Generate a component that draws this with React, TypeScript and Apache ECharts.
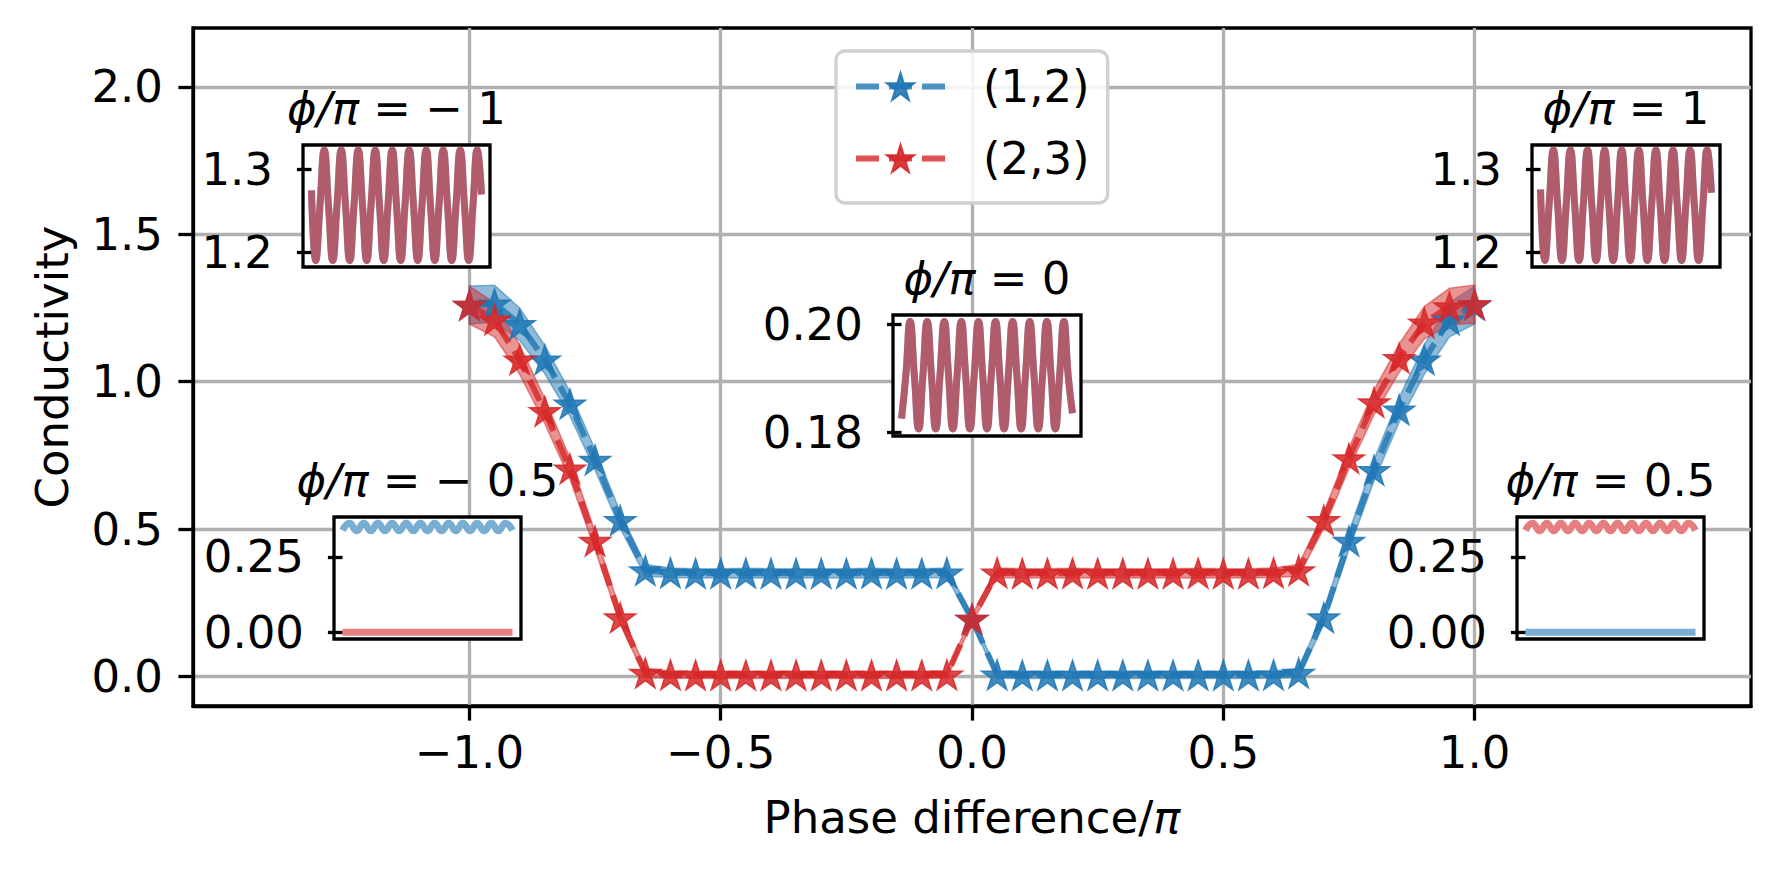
import React, { useEffect, useRef } from "react";
import * as echarts from "echarts";

// ---------- data ----------
const phase = [
  -1.0, -0.95, -0.9, -0.85, -0.8, -0.75, -0.7, -0.65, -0.6, -0.55, -0.5, -0.45, -0.4, -0.35,
  -0.3, -0.25, -0.2, -0.15, -0.1, -0.05, 0.0, 0.05, 0.1, 0.15, 0.2, 0.25, 0.3, 0.35, 0.4, 0.45,
  0.5, 0.55, 0.6, 0.65, 0.7, 0.75, 0.8, 0.85, 0.9, 0.95, 1.0,
];
const cond12 = [
  1.26, 1.265, 1.195, 1.075, 0.925, 0.735, 0.53, 0.36, 0.352, 0.35, 0.35, 0.351, 0.35, 0.35,
  0.35, 0.35, 0.351, 0.35, 0.35, 0.352, 0.195, 0.006, 0.005, 0.005, 0.005, 0.005, 0.005, 0.005,
  0.005, 0.005, 0.005, 0.005, 0.006, 0.012, 0.2, 0.46, 0.7, 0.905, 1.075, 1.21, 1.26,
];
const cond23 = [
  1.26, 1.21, 1.075, 0.9, 0.705, 0.46, 0.2, 0.012, 0.006, 0.005, 0.005, 0.005, 0.005, 0.005,
  0.005, 0.005, 0.005, 0.005, 0.005, 0.006, 0.195, 0.352, 0.35, 0.35, 0.351, 0.35, 0.35, 0.35,
  0.35, 0.351, 0.35, 0.35, 0.352, 0.36, 0.53, 0.74, 0.93, 1.08, 1.2, 1.255, 1.263,
];
const err12 = [
  0.065, 0.062, 0.055, 0.048, 0.042, 0.035, 0.028, 0.02, 0.016, 0.016, 0.016, 0.016, 0.016, 0.016,
  0.016, 0.016, 0.016, 0.016, 0.016, 0.016, 0.014, 0.012, 0.012, 0.012, 0.012, 0.012, 0.012, 0.012,
  0.012, 0.012, 0.012, 0.012, 0.012, 0.016, 0.022, 0.03, 0.036, 0.042, 0.05, 0.058, 0.064,
];
const err23 = [
  0.064, 0.058, 0.05, 0.042, 0.036, 0.03, 0.022, 0.016, 0.012, 0.012, 0.012, 0.012, 0.012, 0.012,
  0.012, 0.012, 0.012, 0.012, 0.012, 0.012, 0.014, 0.016, 0.016, 0.016, 0.016, 0.016, 0.016, 0.016,
  0.016, 0.016, 0.016, 0.016, 0.016, 0.02, 0.028, 0.035, 0.042, 0.048, 0.055, 0.062, 0.065,
];
const seriesNames = ["(1,2)", "(2,3)"];
const xTicks = [-1.0, -0.5, 0.0, 0.5, 1.0];
const yTicks = [0.0, 0.5, 1.0, 1.5, 2.0];

// inset time traces (quarter-period samples for phi = -1, 0, 1; half-period for +-0.5)
const wavePhiNeg1 = [
  1.275, 1.19, 1.257, 1.324, 1.257, 1.19, 1.257, 1.324, 1.257, 1.19, 1.257, 1.324, 1.257, 1.19,
  1.257, 1.324, 1.257, 1.19, 1.257, 1.324, 1.257, 1.19, 1.257, 1.324, 1.257, 1.19, 1.257, 1.324,
  1.257, 1.19, 1.257, 1.324, 1.257, 1.19, 1.257, 1.324, 1.257, 1.19, 1.257, 1.324, 1.27,
];
const wavePhiPos1 = [
  1.276, 1.19, 1.257, 1.324, 1.257, 1.19, 1.257, 1.324, 1.257, 1.19, 1.257, 1.324, 1.257, 1.19,
  1.257, 1.324, 1.257, 1.19, 1.257, 1.324, 1.257, 1.19, 1.257, 1.324, 1.257, 1.19, 1.257, 1.324,
  1.257, 1.19, 1.257, 1.324, 1.257, 1.19, 1.257, 1.324, 1.257, 1.19, 1.257, 1.324, 1.272,
];
const wavePhi0 = [
  0.1825, 0.1905, 0.2005, 0.1905, 0.1806, 0.1905, 0.2005, 0.1905, 0.1806, 0.1905, 0.2005, 0.1905,
  0.1806, 0.1905, 0.2005, 0.1905, 0.1806, 0.1905, 0.2005, 0.1905, 0.1806, 0.1905, 0.2005, 0.1905,
  0.1806, 0.1905, 0.2005, 0.1905, 0.1806, 0.1905, 0.2005, 0.1905, 0.1806, 0.1905, 0.2005, 0.1905,
  0.1806, 0.1905, 0.2005, 0.1905, 0.1835,
];
const wavePhiNeg05 = [
  0.338, 0.362, 0.337, 0.362, 0.337, 0.362, 0.337, 0.362, 0.337, 0.362, 0.337, 0.362, 0.337,
  0.362, 0.337, 0.362, 0.337, 0.362, 0.337, 0.362, 0.337, 0.362, 0.337, 0.362, 0.338,
];
const wavePhiPos05 = [
  0.338, 0.362, 0.337, 0.362, 0.337, 0.362, 0.337, 0.362, 0.337, 0.362, 0.337, 0.362, 0.337,
  0.362, 0.337, 0.362, 0.337, 0.362, 0.337, 0.362, 0.337, 0.362, 0.337, 0.362, 0.338,
];
const flatPhiNeg05 = [0.0, 0.0];
const flatPhiPos05 = [0.0, 0.0];
const insetTicksPhi1 = [1.2, 1.3];
const insetTicksPhi0 = [0.18, 0.2];
const insetTicksHalf = [0.0, 0.25];
const insetTitles = ["ϕ/π = − 1", "ϕ/π = 0", "ϕ/π = 1", "ϕ/π = − 0.5", "ϕ/π = 0.5"];

// ---------- styling ----------
const BLUE = "#1f77b4";
const RED = "#d62728";
const FONT = "DejaVu Sans";
const FS = 45;
const LW = 3.3;
const STAR =
  "path://M100,0 L122.45,69.1 L195.1,69.1 L136.3,111.8 L158.8,180.9 L100,138.2 L41.2,180.9 L63.7,111.8 L4.9,69.1 L77.55,69.1 Z";

function richTitle(t: string) {
  return t.replace("ϕ/π", "{i|ϕ/π}");
}

function buildOption() {
  const insets = [
    { left: 303, top: 145, width: 187, height: 122, yMin: 1.182, yMax: 1.33, ticks: insetTicksPhi1, dec: 1, title: insetTitles[0],
      lines: [ { v: wavePhiNeg1, c: BLUE }, { v: wavePhiNeg1, c: RED } ] },
    { left: 893, top: 315, width: 188, height: 121, yMin: 0.1793, yMax: 0.2017, ticks: insetTicksPhi0, dec: 2, title: insetTitles[1],
      lines: [ { v: wavePhi0, c: BLUE }, { v: wavePhi0, c: RED } ] },
    { left: 1532, top: 145, width: 188, height: 122, yMin: 1.182, yMax: 1.33, ticks: insetTicksPhi1, dec: 1, title: insetTitles[2],
      lines: [ { v: wavePhiPos1, c: BLUE }, { v: wavePhiPos1, c: RED } ] },
    { left: 334, top: 517, width: 187, height: 122, yMin: -0.0225, yMax: 0.3825, ticks: insetTicksHalf, dec: 2, title: insetTitles[3],
      lines: [ { v: wavePhiNeg05, c: BLUE }, { v: flatPhiNeg05, c: RED, flatOf: wavePhiNeg05 } ] },
    { left: 1517, top: 517, width: 187, height: 122, yMin: -0.0225, yMax: 0.3825, ticks: insetTicksHalf, dec: 2, title: insetTitles[4],
      lines: [ { v: wavePhiPos05, c: RED }, { v: flatPhiPos05, c: BLUE, flatOf: wavePhiPos05 } ] },
  ];

  const grid: any[] = [
    { left: 193, top: 28, right: 28, bottom: 167, show: true, borderColor: "#000", borderWidth: LW, backgroundColor: "transparent", z: 0 },
  ];
  const xAxis: any[] = [
    {
      type: "value", gridIndex: 0, min: -1.55, max: 1.55,
      axisLine: { show: true, onZero: false, lineStyle: { color: "#000", width: LW } },
      axisTick: { show: true, length: 14.6, lineStyle: { color: "#000", width: LW }, customValues: xTicks },
      axisLabel: {
        customValues: xTicks, fontSize: FS, fontFamily: FONT, color: "#000", margin: 24,
        formatter: (v: number) => (v < 0 ? "−" + Math.abs(v).toFixed(1) : Math.abs(v).toFixed(1)),
      },
      splitLine: { show: true, lineStyle: { color: "#b0b0b0", width: LW } },
      name: "Phase difference/{i|π}", nameLocation: "middle", nameGap: 89,
      nameTextStyle: { fontSize: FS, fontFamily: FONT, color: "#000", rich: { i: { fontStyle: "italic", fontSize: FS, fontFamily: FONT, color: "#000" } } },
    },
  ];
  const yAxis: any[] = [
    {
      type: "value", gridIndex: 0, min: -0.1, max: 2.2,
      axisLine: { show: true, onZero: false, lineStyle: { color: "#000", width: LW } },
      axisTick: { show: true, length: 14.6, lineStyle: { color: "#000", width: LW }, customValues: yTicks },
      axisLabel: { customValues: yTicks, fontSize: FS, fontFamily: FONT, color: "#000", margin: 30, formatter: (v: number) => v.toFixed(1) },
      splitLine: { show: true, lineStyle: { color: "#b0b0b0", width: LW } },
      name: "Conductivity", nameLocation: "middle", nameGap: 118,
      nameTextStyle: { fontSize: FS, fontFamily: FONT, color: "#000" },
    },
  ];

  const series: any[] = [];
  const mains = [
    { name: seriesNames[0], v: cond12, e: err12, c: BLUE },
    { name: seriesNames[1], v: cond23, e: err23, c: RED },
  ];
  mains.forEach((m) => {
    // shaded uncertainty band as one polygon through the axis scales
    series.push({
      type: "custom", xAxisIndex: 0, yAxisIndex: 0, silent: true, z: 2,
      data: phase.map((x, i) => [x, m.v[i] - m.e[i], m.v[i] + m.e[i]]),
      encode: { x: 0, y: [1, 2] },
      renderItem: (params: any, api: any) => {
        if (params.dataIndex !== 0) return null;
        const upper = phase.map((x, i) => api.coord([x, m.v[i] + m.e[i]]));
        const lower = phase.map((x, i) => api.coord([x, m.v[i] - m.e[i]])).reverse();
        return {
          type: "polygon",
          shape: { points: upper.concat(lower) },
          style: { fill: m.c, opacity: 0.5, stroke: m.c, lineWidth: 1.5 },
        };
      },
    });
    series.push({
      type: "line", name: m.name, xAxisIndex: 0, yAxisIndex: 0,
      data: phase.map((x, i) => [x, m.v[i]]),
      symbol: STAR, symbolSize: 31, symbolKeepAspect: true,
      lineStyle: { color: m.c, width: 6, type: [23, 10], opacity: 0.8 },
      itemStyle: { color: m.c, opacity: 0.85, borderColor: m.c, borderWidth: 1.5 },
      z: 3,
    });
  });

  const graphic: any[] = [];
  insets.forEach((ins, j) => {
    const gi = j + 1;
    const N = ins.lines[0].v.length - 1;
    grid.push({ left: ins.left, top: ins.top, width: ins.width, height: ins.height, show: true, borderColor: "#000", borderWidth: LW, backgroundColor: "#fff", z: 5 });
    xAxis.push({ type: "value", gridIndex: gi, min: -0.05 * N, max: 1.05 * N, show: false, z: 5 });
    yAxis.push({
      type: "value", gridIndex: gi, min: ins.yMin, max: ins.yMax, z: 5,
      axisLine: { show: false },
      axisTick: { show: true, length: 14.6, lineStyle: { color: "#000", width: LW }, customValues: ins.ticks },
      axisLabel: { customValues: ins.ticks, fontSize: FS, fontFamily: FONT, color: "#000", margin: 30, formatter: (v: number) => v.toFixed(ins.dec) },
      splitLine: { show: false },
    });
    ins.lines.forEach((ln: any, li: number) => {
      const data = ln.flatOf
        ? [[0, ln.v[0]], [ln.flatOf.length - 1, ln.v[1]]]
        : ln.v.map((y: number, i: number) => [i, y]);
      series.push({
        type: "line", name: "_inset" + j + "_" + li, xAxisIndex: gi, yAxisIndex: gi, silent: true,
        data, symbol: "none", smooth: ln.flatOf ? false : 0.5,
        lineStyle: { color: ln.c, width: 7, opacity: 0.6 }, z: 6,
      });
    });
    graphic.push({
      type: "text", x: ins.left + ins.width / 2, y: ins.top - 14, z: 10,
      style: {
        text: richTitle(ins.title), fill: "#000", fontSize: FS, fontFamily: FONT,
        align: "center", verticalAlign: "bottom",
        rich: { i: { fontStyle: "italic", fontSize: FS, fontFamily: FONT, fill: "#000" } },
      },
    });
  });

  return {
    animation: false,
    textStyle: { fontFamily: FONT },
    grid, xAxis, yAxis, series, graphic,
    legend: {
      data: seriesNames, orient: "vertical", left: 836, top: 51,
      padding: [13, 18, 22, 17], itemWidth: 89, itemHeight: 34, itemGap: 27,
      backgroundColor: "rgba(255,255,255,0.85)", borderColor: "#d0d0d0", borderWidth: 3.3, borderRadius: 9,
      lineStyle: { width: 6, type: [23, 10], opacity: 0.8 },
      itemStyle: { opacity: 0.9 },
      textStyle: { fontSize: FS, fontFamily: FONT, color: "#000", padding: [0, 0, 0, 33] },
      z: 8,
    },
  };
}

export default function App() {
  const ref = useRef<HTMLDivElement>(null);
  useEffect(() => {
    document.body.style.margin = "0";
    const chart = echarts.init(ref.current!, null, { renderer: "svg" });
    chart.setOption(buildOption() as any);
    return () => chart.dispose();
  }, []);
  return <div ref={ref} style={{ width: 1779, height: 873 }} />;
}
